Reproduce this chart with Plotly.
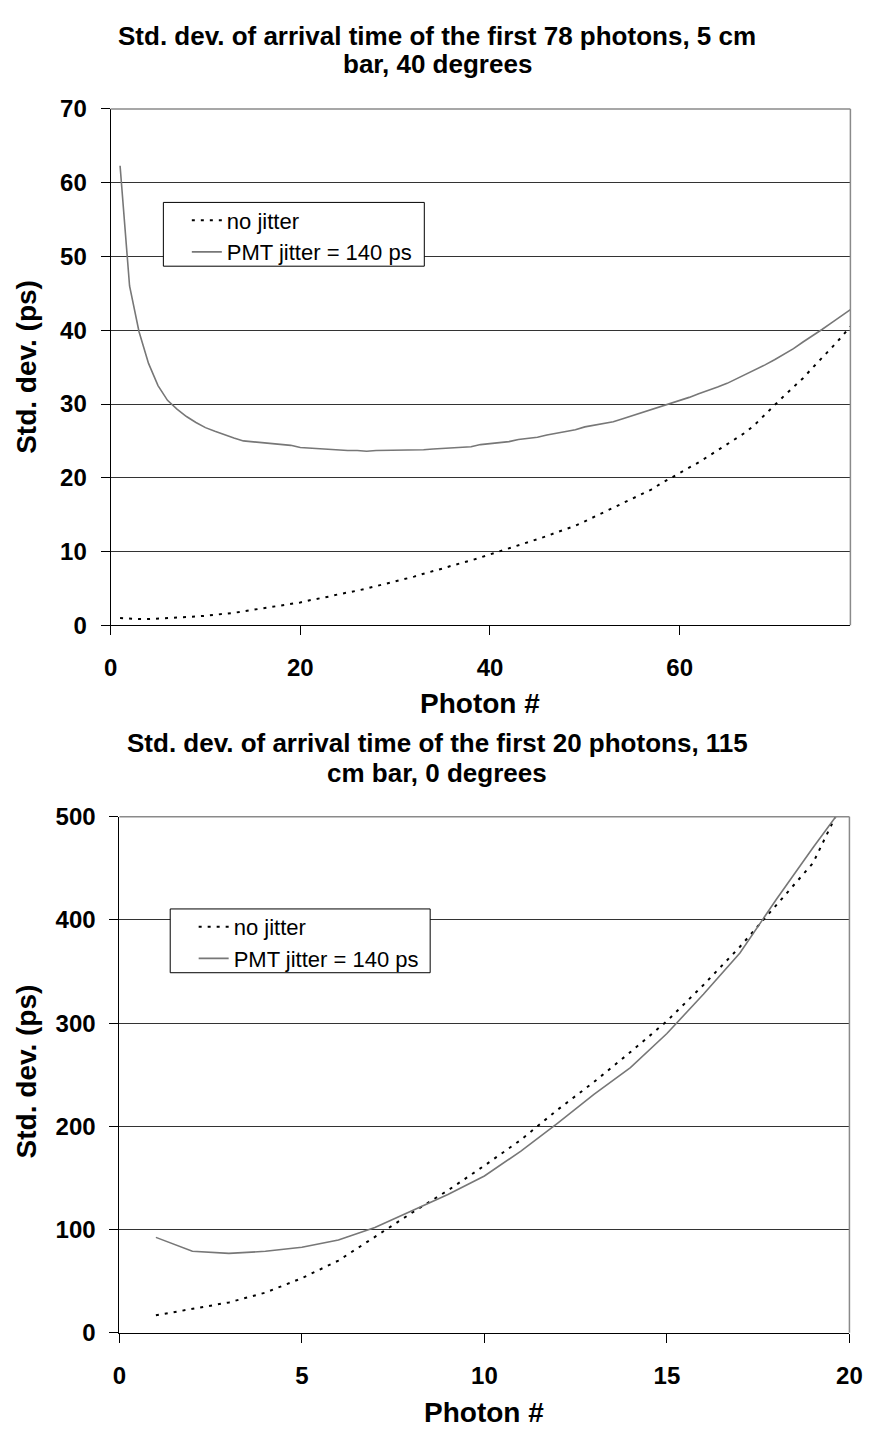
import plotly.graph_objects as go

# ---------------- data ----------------
photon_top = list(range(1, 79))
nojitter_top = [1.0, 0.9, 0.85, 0.85, 0.9, 0.95, 1.0, 1.1, 1.2, 1.3,
                1.4, 1.6, 1.7, 1.9, 2.1, 2.3, 2.5, 2.7, 2.9, 3.1,
                3.4, 3.6, 3.9, 4.2, 4.4, 4.7, 5.0, 5.3, 5.6, 6.0,
                6.3, 6.6, 7.0, 7.3, 7.7, 8.1, 8.4, 8.8, 9.2, 9.6,
                10.0, 10.4, 10.8, 11.3, 11.7, 12.1, 12.6, 13.0, 13.5, 14.1,
                14.7, 15.4, 16.0, 16.5, 17.1, 17.7, 18.4, 19.2, 19.9, 20.6,
                21.4, 22.1, 22.9, 23.7, 24.5, 25.3, 26.2, 27.3, 28.6, 29.8,
                31.1, 32.3, 33.5, 34.9, 36.2, 37.6, 39.0, 40.5]
pmt_top = [62.3, 46.0, 39.8, 35.5, 32.5, 30.5, 29.3, 28.3, 27.5, 26.8,
           26.3, 25.8, 25.4, 25.0, 24.9, 24.8, 24.7, 24.5, 24.4, 24.1,
           24.0, 24.0, 23.9, 23.8, 23.7, 23.7, 23.6, 23.7, 23.7, 23.7,
           23.7, 23.8, 23.8, 23.9, 24.0, 24.1, 24.1, 24.2, 24.5, 24.6,
           24.7, 24.9, 25.2, 25.3, 25.5, 25.8, 26.0, 26.3, 26.5, 26.9,
           27.1, 27.3, 27.6, 28.0, 28.4, 28.8, 29.2, 29.6, 30.1, 30.5,
           30.9, 31.4, 31.8, 32.3, 32.8, 33.4, 34.0, 34.6, 35.3, 36.0,
           36.7, 37.5, 38.4, 39.2, 40.1, 41.0, 41.9, 42.8]

photon_bot = list(range(1, 21))
nojitter_bot = [17, 23, 29.5, 39, 53, 70, 93, 116, 138, 162,
                187, 216, 243, 272, 302, 337, 374, 415, 455, 528]
pmt_bot = [92.5, 79, 77, 79, 83, 90, 102, 118, 134, 152,
           176, 203, 231, 257, 290, 328, 368, 420, 470, 518]

series_names = ["no jitter", "PMT jitter = 140 ps"]
title_top = ["Std. dev. of arrival time of the first 78 photons, 5 cm", "bar, 40 degrees"]
title_bot = ["Std. dev. of arrival time of the first 20 photons, 115", "cm bar, 0 degrees"]
xtitle = "Photon #"
ytitle = "Std. dev. (ps)"
xticks_top = [0, 20, 40, 60]
yticks_top = [0, 10, 20, 30, 40, 50, 60, 70]
xticks_bot = [0, 5, 10, 15, 20]
yticks_bot = [0, 100, 200, 300, 400, 500]

# ---------------- layout helpers ----------------
W, H = 881, 1444
FONT = "Arial, Liberation Sans, sans-serif"


def fx(p):
    return p / W


def fy(p):
    return 1 - p / H


DOT = dict(color="black", width=2, dash="3px,6px")
SOLID = dict(color="#777777", width=1.6)

fig = go.Figure()
fig.add_trace(go.Scatter(x=photon_top, y=nojitter_top, mode="lines", name=series_names[0],
                         line=DOT, xaxis="x", yaxis="y", legend="legend", legendgroup="a"))
fig.add_trace(go.Scatter(x=photon_top, y=pmt_top, mode="lines", name=series_names[1],
                         line=SOLID, xaxis="x", yaxis="y", legend="legend", legendgroup="b"))
fig.add_trace(go.Scatter(x=photon_bot, y=nojitter_bot, mode="lines", name=series_names[0],
                         line=DOT, xaxis="x2", yaxis="y2", legend="legend2", legendgroup="c"))
fig.add_trace(go.Scatter(x=photon_bot, y=pmt_bot, mode="lines", name=series_names[1],
                         line=SOLID, xaxis="x2", yaxis="y2", legend="legend2", legendgroup="d"))

tickfont = dict(family=FONT, size=24, color="black", weight="bold")
common_x = dict(showgrid=False, zeroline=False, showline=True, linecolor="black", linewidth=1,
                ticks="outside", ticklen=9, tickcolor="black", tickwidth=1,
                tickfont=tickfont, ticklabelstandoff=12, ticklabeloverflow="allow",
                fixedrange=True)
common_y = dict(showgrid=True, gridcolor="#333333", gridwidth=1, zeroline=False, showline=True,
                linecolor="black", linewidth=1, ticks="outside", ticklen=9, tickcolor="black",
                tickwidth=1, tickfont=tickfont, ticklabelstandoff=9, fixedrange=True)

top_l, top_r, top_t, top_b = 106, 863, 96.7, 623
bot_l, bot_r, bot_t, bot_b = 115, 862, 818, 1344

legend_common = dict(bgcolor="rgba(0,0,0,0)", borderwidth=0, xanchor="left", yanchor="top",
                     font=dict(family=FONT, size=22, color="black"), tracegroupgap=0,
                     itemwidth=30)

fig.update_layout(
    width=W, height=H, margin=dict(l=0, r=0, t=0, b=0),
    paper_bgcolor="white", plot_bgcolor="white", hovermode=False,
    xaxis=dict(domain=[fx(top_l), fx(top_r)], anchor="y", range=[0, 78], tickvals=xticks_top, **common_x),
    yaxis=dict(domain=[fy(top_b), fy(top_t)], anchor="x", range=[0, 70], tickvals=yticks_top, **common_y),
    xaxis2=dict(domain=[fx(bot_l), fx(bot_r)], anchor="y2", range=[0, 20], tickvals=xticks_bot, **common_x),
    yaxis2=dict(domain=[fy(bot_b), fy(bot_t)], anchor="x2", range=[0, 500], tickvals=yticks_bot, **common_y),
    legend=dict(x=fx(184), y=fy(189), **legend_common),
    legend2=dict(x=fx(191), y=fy(909), **legend_common),
    showlegend=True,
)

shapes = []
for xr, yr in (("x", "y"), ("x2", "y2")):
    shapes.append(dict(type="line", xref=f"{xr} domain", yref=f"{yr} domain", x0=0, x1=1, y0=1, y1=1,
                       line=dict(color="#8a8a8a", width=1.5), layer="above"))
    shapes.append(dict(type="line", xref=f"{xr} domain", yref=f"{yr} domain", x0=1, x1=1, y0=0, y1=1,
                       line=dict(color="#8a8a8a", width=1.5), layer="above"))
# legend boxes
for (l, t, r, b) in ((160, 192, 427, 257), (167, 912, 433, 977)):
    shapes.append(dict(type="rect", xref="paper", yref="paper", x0=fx(l), x1=fx(r), y0=fy(b), y1=fy(t),
                       line=dict(color="black", width=1), fillcolor="white", layer="above"))
fig.update_layout(shapes=shapes)

tfont = dict(family=FONT, size=26, color="black", weight="bold")
afont = dict(family=FONT, size=28, color="black", weight="bold")
ann = []


def add_text(text, x, y, font, angle=0):
    ann.append(dict(text=text, x=fx(x), y=fy(y), xref="paper", yref="paper", showarrow=False,
                    font=font, xanchor="center", yanchor="middle", textangle=angle))


add_text(title_top[0], 440, 22, tfont)
add_text(title_top[1], 440, 51, tfont)
add_text(title_bot[0], 440, 743, tfont)
add_text(title_bot[1], 440, 773, tfont)
add_text(xtitle, 484, 703, afont)
add_text(xtitle, 488, 1425, afont)
add_text(ytitle, 20, 360, afont, -90)
add_text(ytitle, 20, 1078, afont, -90)
fig.update_layout(annotations=ann)

# remove the default 8px page margin so the 881x1444 figure fills the window exactly
fig.write_html("out.html", config={"displayModeBar": False, "staticPlot": True},
               post_script="document.body.style.margin='0';")
